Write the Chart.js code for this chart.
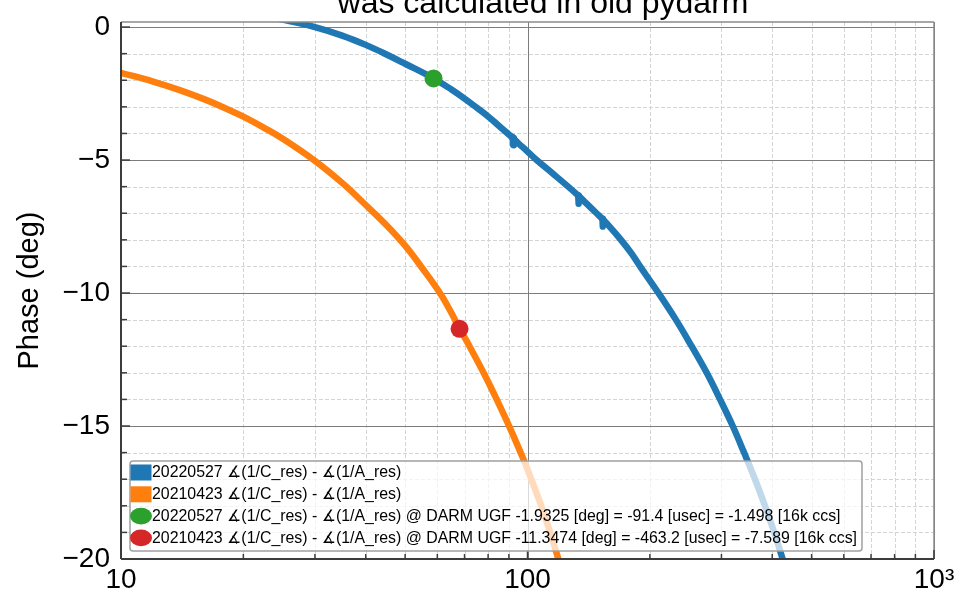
<!DOCTYPE html>
<html>
<head>
<meta charset="utf-8">
<script src="https://cdn.jsdelivr.net/npm/chart.js@4.4.1/dist/chart.umd.min.js"></script>
<style>
  html, body { margin: 0; padding: 0; background: #fff; }
  #wrap { width: 961px; height: 592px; position: relative; }
</style>
</head>
<body>
<div id="wrap"><canvas id="myChart"></canvas></div>
<script>
const titleText = 'was calculated in old pydarm';
const yAxisLabel = 'Phase (deg)';

// 20220527 curve (Hz, deg), smooth part
const freq2022 = [20, 25, 30, 35, 40, 45, 50, 58.73, 65, 70, 75, 80, 85, 90, 95, 100, 105.3, 115, 125.9,
  133.6, 140, 147.9, 153.2, 160, 169.8, 180, 189.2, 210, 231.7, 253.4, 276, 297.6, 319.8, 341, 362.8, 383.9, 404.6, 424.3, 445];
const phase2022 = [0.55, 0.28, 0.0, -0.32, -0.67, -1.03, -1.38, -1.93, -2.35, -2.69, -3.03, -3.36, -3.71, -4.04, -4.37, -4.68, -5.0, -5.49, -6.0,
  -6.35, -6.65, -7.0, -7.23, -7.54, -8.0, -8.5, -9.0, -10, -11, -12, -13, -14, -15, -16, -17, -18, -19, -20, -21];
// short glitches on the 20220527 curve (null = gap)
const glitchFreq = [91.9, 92.2, 92.5, null, 133.3, 133.6, 133.9, null, 152.9, 153.2, 153.5];
const glitchPhase = [-4.13, -4.44, -4.17, null, -6.33, -6.64, -6.37, null, -7.21, -7.5, -7.25];

// 20210423 curve
const freq2021 = [10, 12, 14, 16, 18, 20, 22.5, 25, 30, 35, 40, 45, 50, 55, 60.9, 65, 68.05, 72, 78.6, 84.6, 90.4, 96.8, 100, 110, 119, 126];
const phase2021 = [-1.72, -2.05, -2.38, -2.71, -3.04, -3.37, -3.79, -4.2, -5.03, -5.86, -6.69, -7.45, -8.22, -9.05, -10.0, -10.75, -11.33, -12.0,
  -13.1, -14.1, -15.05, -16.1, -16.63, -18.33, -19.98, -21.3];

// phase at DARM UGF
const ugfFreq = [58.73, 68.05];
const ugfPhase = [-1.9325, -11.3474];

const seriesLabels = [
  '20220527 ∡(1/C_res) - ∡(1/A_res)',
  '20210423 ∡(1/C_res) - ∡(1/A_res)',
  '20220527 ∡(1/C_res) - ∡(1/A_res) @ DARM UGF -1.9325 [deg] = -91.4 [usec] = -1.498 [16k ccs]',
  '20210423 ∡(1/C_res) - ∡(1/A_res) @ DARM UGF -11.3474 [deg] = -463.2 [usec] = -7.589 [16k ccs]'
];
const seriesColors = ['#1f77b4', '#ff7f0e', '#2ca02c', '#d62728'];

const xTicks = [10, 100, 1000];
const xTickLabels = ['10', '100', '10³'];
const xMinor = [20, 30, 40, 50, 60, 70, 80, 90, 200, 300, 400, 500, 600, 700, 800, 900];
const yTicks = [-20, -15, -10, -5, 0];
const yTickLabels = ['−20', '−15', '−10', '−5', '0'];
const yMinor = [-19, -18, -17, -16, -14, -13, -12, -11, -9, -8, -7, -6, -4, -3, -2, -1];

Chart.defaults.font.family = "'Liberation Sans', Arial, sans-serif";
Chart.defaults.color = '#000';

function pts(xs, ys) {
  return xs.map((v, i) => (v === null ? { x: NaN, y: null } : { x: v, y: ys[i] }));
}

function hline(ctx, x1, x2, y) { ctx.beginPath(); ctx.moveTo(x1, y); ctx.lineTo(x2, y); ctx.stroke(); }
function vline(ctx, x, y1, y2) { ctx.beginPath(); ctx.moveTo(x, y1); ctx.lineTo(x, y2); ctx.stroke(); }

const axesDecor = {
  id: 'axesDecor',
  beforeDatasetsDraw(chart) {
    const { ctx, chartArea: a, scales: { x, y } } = chart;
    ctx.save();
    ctx.lineWidth = 1;
    ctx.strokeStyle = '#d4d4d4';
    ctx.setLineDash([4, 2]);
    xMinor.forEach(v => vline(ctx, Math.round(x.getPixelForValue(v)) + 0.5, a.top, a.bottom));
    yMinor.forEach(v => hline(ctx, a.left, a.right, Math.round(y.getPixelForValue(v)) + 0.5));
    ctx.setLineDash([]);
    ctx.strokeStyle = '#7c7c7c';
    xTicks.forEach(v => vline(ctx, Math.round(x.getPixelForValue(v)) + 0.5, a.top, a.bottom));
    yTicks.forEach(v => hline(ctx, a.left, a.right, Math.round(y.getPixelForValue(v)) + 0.5));
    ctx.restore();
  },
  afterDatasetsDraw(chart) {
    const { ctx, chartArea: a, scales: { x, y } } = chart;
    ctx.save();
    // spines
    ctx.lineWidth = 1.5;
    ctx.strokeStyle = '#8a8a8a';
    hline(ctx, a.left, a.right, a.top);
    vline(ctx, a.right, a.top, a.bottom);
    ctx.lineWidth = 2;
    ctx.strokeStyle = '#3c3c3c';
    vline(ctx, a.left, a.top, a.bottom);
    hline(ctx, a.left, a.right, a.bottom);
    // inward ticks
    ctx.lineWidth = 1.5;
    yTicks.forEach(v => hline(ctx, a.left, a.left + 9, y.getPixelForValue(v)));
    yMinor.forEach(v => hline(ctx, a.left, a.left + 6, y.getPixelForValue(v)));
    xTicks.forEach(v => vline(ctx, x.getPixelForValue(v), a.bottom, a.bottom - 9));
    xMinor.forEach(v => vline(ctx, x.getPixelForValue(v), a.bottom, a.bottom - 5));
    ctx.restore();
  },
  afterDraw(chart) {
    const { ctx, chartArea: a } = chart;
    ctx.save();
    // title (its top is cut by the figure edge)
    ctx.font = "32px 'Liberation Sans', Arial, sans-serif";
    ctx.fillStyle = '#000';
    ctx.textAlign = 'center';
    ctx.textBaseline = 'alphabetic';
    ctx.fillText(titleText, 543, 13);

    // legend inside the axes, lower left
    ctx.font = "15.9px 'Liberation Sans', 'DejaVu Sans', sans-serif";
    const left = a.left + 9, top = a.bottom - 98, rowH = 21.8;
    const textX = left + 22;
    let maxW = 0;
    seriesLabels.forEach(t => { maxW = Math.max(maxW, ctx.measureText(t).width); });
    const w = textX + maxW + 5 - left, h = 90;
    ctx.beginPath();
    ctx.roundRect(left, top, w, h, 3);
    ctx.fillStyle = 'rgba(255,255,255,0.72)';
    ctx.fill();
    ctx.lineWidth = 1.5;
    ctx.strokeStyle = '#a0a0a0';
    ctx.stroke();
    ctx.textAlign = 'left';
    ctx.textBaseline = 'middle';
    seriesLabels.forEach((t, i) => {
      const cy = top + 11.5 + i * rowH;
      ctx.fillStyle = seriesColors[i];
      if (i < 2) {
        ctx.fillRect(left + 0.5, cy - 8, 21, 16);
      } else {
        ctx.beginPath();
        ctx.ellipse(left + 11, cy, 11, 8.3, 0, 0, Math.PI * 2);
        ctx.fill();
      }
      ctx.fillStyle = '#000';
      ctx.fillText(t, textX, cy + 0.5);
    });
    ctx.restore();
  }
};

const lineStyle = { pointRadius: 0, borderWidth: 6.5, tension: 0.4, borderJoinStyle: 'round', borderCapStyle: 'round' };

const ctx = document.querySelector('#myChart').getContext('2d');
const myChart = new Chart(ctx, {
  type: 'line',
  data: {
    datasets: [
      { label: seriesLabels[3], data: pts([ugfFreq[1]], [ugfPhase[1]]), showLine: false, pointRadius: 9,
        pointBackgroundColor: seriesColors[3], pointBorderWidth: 0, order: 0 },
      { label: seriesLabels[2], data: pts([ugfFreq[0]], [ugfPhase[0]]), showLine: false, pointRadius: 9,
        pointBackgroundColor: seriesColors[2], pointBorderWidth: 0, order: 1 },
      { label: seriesLabels[1], data: pts(freq2021, phase2021), borderColor: seriesColors[1], ...lineStyle, order: 2 },
      { label: seriesLabels[0], data: pts(freq2022, phase2022), borderColor: seriesColors[0], ...lineStyle, order: 3 },
      { label: seriesLabels[0] + ' glitches', data: pts(glitchFreq, glitchPhase), borderColor: seriesColors[0], ...lineStyle,
        tension: 0, spanGaps: false, order: 3 }
    ]
  },
  options: {
    responsive: true,
    maintainAspectRatio: false,
    animation: false,
    events: [],
    layout: { padding: { top: 22, right: 27, left: 0, bottom: 0 } },
    plugins: { legend: { display: false }, tooltip: { enabled: false }, title: { display: false } },
    scales: {
      x: {
        type: 'logarithmic', min: 10, max: 1000,
        grid: { display: false, drawTicks: false },
        border: { display: false },
        afterBuildTicks: s => { s.ticks = xTicks.map(v => ({ value: v })); },
        afterFit: s => { s.height = 33; },
        ticks: { autoSkip: false, maxRotation: 0, padding: 4, font: { size: 28 },
          callback: (v, i) => xTickLabels[i] }
      },
      y: {
        min: -20, max: 0.19,
        grid: { display: false, drawTicks: false },
        border: { display: false },
        afterBuildTicks: s => { s.ticks = yTicks.map(v => ({ value: v })); },
        afterFit: s => { s.width = 121; s.paddingTop = 0; s.paddingBottom = 0; },
        ticks: { padding: 11, font: { size: 28 }, callback: (v, i) => yTickLabels[i] },
        title: { display: true, text: yAxisLabel, font: { size: 29 }, padding: { top: 13, bottom: 0 } }
      }
    }
  },
  plugins: [axesDecor]
});
</script>
</body>
</html>
